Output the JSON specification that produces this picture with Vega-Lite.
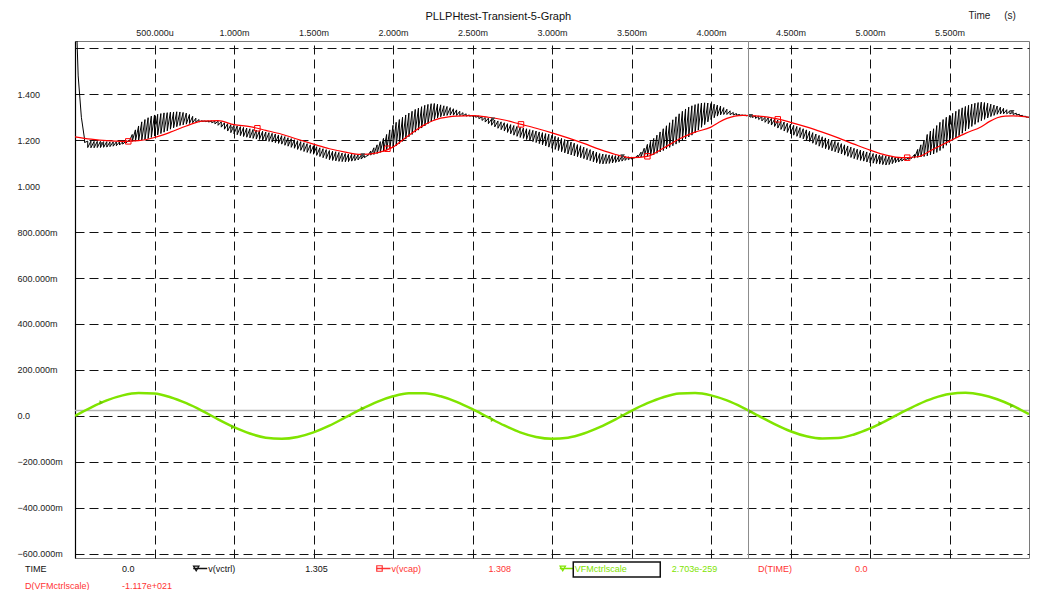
{
"$schema": "https://vega.github.io/schema/vega-lite/v6.json",
"background": "white",
"padding": {"left": 16, "top": 9, "right": 5, "bottom": 0},
"title": {"text": "PLLPHtest-Transient-5-Graph", "anchor": "start", "dx": 409, "fontSize": 11, "fontWeight": "normal", "font": "Liberation Sans", "color": "#111", "offset": -12},
"config": {
 "font": "Liberation Sans",
 "view": {"stroke": "#7a7a7a", "strokeWidth": 1},
 "axisX": {"labelFontSize": 9, "labelColor": "#222", "labelFont": "Liberation Sans", "labelBaseline": "bottom", "labelPadding": 4, "ticks": false, "domain": false,
   "grid": true, "gridColor": "#111", "gridDash": [9, 5], "gridWidth": 1,
   "titleX": 893, "titleY": -26, "titleAlign": "left", "titleBaseline": "middle", "titleFontSize": 10, "titleFontWeight": "normal", "titleColor": "#222", "titleFont": "Liberation Sans"},
 "axisY": {"labelFontSize": 9, "labelColor": "#222", "labelFont": "Liberation Sans", "labelAlign": "left", "labelBaseline": "middle", "labelPadding": 58, "ticks": false,
   "domain": true, "domainColor": "#000", "domainWidth": 1.2,
   "grid": true, "gridColor": "#111", "gridDash": [9, 5], "gridWidth": 1}
},
"spacing": -5,
"datasets": {
"vctrl": [
{"t":0,"h":1.9,"l":1.9},{"t":0.02,"h":1.48,"l":1.48},{"t":0.04,"h":1.3,"l":1.3},{"t":0.06,"h":1.205,"l":1.19},
{"t":0.08,"h":1.196,"l":1.168},{"t":0.1,"h":1.196,"l":1.167},{"t":0.12,"h":1.195,"l":1.167},{"t":0.14,"h":1.195,"l":1.168},{"t":0.16,"h":1.195,"l":1.168},{"t":0.18,"h":1.194,"l":1.169},{"t":0.2,"h":1.194,"l":1.17},{"t":0.22,"h":1.193,"l":1.172},{"t":0.24,"h":1.193,"l":1.174},{"t":0.26,"h":1.193,"l":1.176},{"t":0.28,"h":1.193,"l":1.179},{"t":0.3,"h":1.193,"l":1.183},{"t":0.32,"h":1.195,"l":1.188},
{"t":0.34,"h":1.2,"l":1.193},{"t":0.36,"h":1.225,"l":1.195},{"t":0.38,"h":1.245,"l":1.196},{"t":0.4,"h":1.262,"l":1.198},{"t":0.42,"h":1.28,"l":1.2},{"t":0.44,"h":1.29,"l":1.203},{"t":0.46,"h":1.298,"l":1.207},{"t":0.48,"h":1.305,"l":1.212},{"t":0.5,"h":1.31,"l":1.218},{"t":0.52,"h":1.313,"l":1.223},{"t":0.54,"h":1.316,"l":1.229},{"t":0.56,"h":1.319,"l":1.235},{"t":0.58,"h":1.32,"l":1.241},{"t":0.6,"h":1.322,"l":1.248},{"t":0.62,"h":1.323,"l":1.254},{"t":0.64,"h":1.324,"l":1.259},{"t":0.66,"h":1.323,"l":1.264},{"t":0.68,"h":1.321,"l":1.267},{"t":0.7,"h":1.318,"l":1.27},{"t":0.72,"h":1.312,"l":1.273},{"t":0.74,"h":1.304,"l":1.276},{"t":0.76,"h":1.296,"l":1.278},{"t":0.78,"h":1.29,"l":1.28},{"t":0.8,"h":1.285,"l":1.282},
{"t":0.82,"h":1.284,"l":1.281},{"t":0.84,"h":1.284,"l":1.279},{"t":0.86,"h":1.284,"l":1.276},{"t":0.88,"h":1.283,"l":1.271},{"t":0.9,"h":1.283,"l":1.265},{"t":0.92,"h":1.28,"l":1.257},{"t":0.94,"h":1.276,"l":1.248},{"t":0.96,"h":1.272,"l":1.24},{"t":0.98,"h":1.268,"l":1.233},{"t":1,"h":1.265,"l":1.228},{"t":1.02,"h":1.262,"l":1.224},{"t":1.04,"h":1.259,"l":1.22},{"t":1.06,"h":1.256,"l":1.216},{"t":1.08,"h":1.253,"l":1.213},{"t":1.1,"h":1.25,"l":1.21},{"t":1.12,"h":1.247,"l":1.208},{"t":1.14,"h":1.244,"l":1.205},{"t":1.16,"h":1.241,"l":1.203},{"t":1.18,"h":1.239,"l":1.2},{"t":1.2,"h":1.236,"l":1.198},{"t":1.22,"h":1.233,"l":1.195},{"t":1.24,"h":1.23,"l":1.192},{"t":1.26,"h":1.227,"l":1.189},{"t":1.28,"h":1.223,"l":1.186},{"t":1.3,"h":1.22,"l":1.183},{"t":1.32,"h":1.216,"l":1.178},{"t":1.34,"h":1.211,"l":1.174},{"t":1.36,"h":1.207,"l":1.169},{"t":1.38,"h":1.202,"l":1.165},{"t":1.4,"h":1.198,"l":1.16},{"t":1.42,"h":1.194,"l":1.156},{"t":1.44,"h":1.189,"l":1.151},{"t":1.46,"h":1.185,"l":1.147},{"t":1.48,"h":1.18,"l":1.143},{"t":1.5,"h":1.176,"l":1.139},{"t":1.52,"h":1.172,"l":1.134},{"t":1.54,"h":1.167,"l":1.129},{"t":1.56,"h":1.163,"l":1.124},{"t":1.58,"h":1.159,"l":1.12},{"t":1.6,"h":1.155,"l":1.115},{"t":1.62,"h":1.152,"l":1.112},{"t":1.64,"h":1.15,"l":1.11},{"t":1.66,"h":1.147,"l":1.108},{"t":1.68,"h":1.144,"l":1.107},{"t":1.7,"h":1.142,"l":1.106},{"t":1.72,"h":1.14,"l":1.107},{"t":1.74,"h":1.139,"l":1.109},{"t":1.76,"h":1.138,"l":1.111},{"t":1.78,"h":1.136,"l":1.114},{"t":1.8,"h":1.135,"l":1.118},{"t":1.82,"h":1.133,"l":1.124},{"t":1.84,"h":1.134,"l":1.131},
{"t":1.86,"h":1.153,"l":1.135},{"t":1.88,"h":1.167,"l":1.138},{"t":1.9,"h":1.18,"l":1.142},{"t":1.92,"h":1.194,"l":1.147},{"t":1.94,"h":1.208,"l":1.152},{"t":1.96,"h":1.225,"l":1.158},{"t":1.98,"h":1.245,"l":1.163},{"t":2,"h":1.265,"l":1.168},{"t":2.02,"h":1.278,"l":1.176},{"t":2.04,"h":1.29,"l":1.185},{"t":2.06,"h":1.3,"l":1.195},{"t":2.08,"h":1.31,"l":1.205},{"t":2.1,"h":1.318,"l":1.215},{"t":2.12,"h":1.326,"l":1.225},{"t":2.14,"h":1.334,"l":1.235},{"t":2.16,"h":1.34,"l":1.244},{"t":2.18,"h":1.346,"l":1.253},{"t":2.2,"h":1.352,"l":1.262},{"t":2.22,"h":1.356,"l":1.272},{"t":2.24,"h":1.359,"l":1.282},{"t":2.26,"h":1.36,"l":1.29},{"t":2.28,"h":1.357,"l":1.297},{"t":2.3,"h":1.354,"l":1.302},{"t":2.32,"h":1.35,"l":1.306},{"t":2.34,"h":1.347,"l":1.308},{"t":2.36,"h":1.342,"l":1.309},{"t":2.38,"h":1.337,"l":1.309},{"t":2.4,"h":1.332,"l":1.308},{"t":2.42,"h":1.326,"l":1.307},{"t":2.44,"h":1.32,"l":1.306},{"t":2.46,"h":1.315,"l":1.305},{"t":2.48,"h":1.31,"l":1.305},{"t":2.5,"h":1.307,"l":1.304},
{"t":2.52,"h":1.306,"l":1.3},{"t":2.54,"h":1.305,"l":1.294},{"t":2.56,"h":1.302,"l":1.286},{"t":2.58,"h":1.299,"l":1.279},{"t":2.6,"h":1.296,"l":1.272},{"t":2.62,"h":1.292,"l":1.265},{"t":2.64,"h":1.288,"l":1.258},{"t":2.66,"h":1.284,"l":1.252},{"t":2.68,"h":1.28,"l":1.246},{"t":2.7,"h":1.276,"l":1.24},{"t":2.72,"h":1.272,"l":1.234},{"t":2.74,"h":1.268,"l":1.228},{"t":2.76,"h":1.264,"l":1.222},{"t":2.78,"h":1.26,"l":1.217},{"t":2.8,"h":1.256,"l":1.212},{"t":2.82,"h":1.253,"l":1.208},{"t":2.84,"h":1.25,"l":1.203},{"t":2.86,"h":1.246,"l":1.199},{"t":2.88,"h":1.243,"l":1.194},{"t":2.9,"h":1.24,"l":1.19},{"t":2.92,"h":1.236,"l":1.185},{"t":2.94,"h":1.233,"l":1.18},{"t":2.96,"h":1.229,"l":1.175},{"t":2.98,"h":1.226,"l":1.17},{"t":3,"h":1.222,"l":1.165},{"t":3.02,"h":1.217,"l":1.16},{"t":3.04,"h":1.212,"l":1.155},{"t":3.06,"h":1.208,"l":1.15},{"t":3.08,"h":1.203,"l":1.145},{"t":3.1,"h":1.198,"l":1.14},{"t":3.12,"h":1.192,"l":1.136},{"t":3.14,"h":1.187,"l":1.132},{"t":3.16,"h":1.181,"l":1.128},{"t":3.18,"h":1.176,"l":1.124},{"t":3.2,"h":1.17,"l":1.12},{"t":3.22,"h":1.164,"l":1.115},{"t":3.24,"h":1.159,"l":1.111},{"t":3.26,"h":1.153,"l":1.106},{"t":3.28,"h":1.148,"l":1.102},{"t":3.3,"h":1.142,"l":1.098},{"t":3.32,"h":1.14,"l":1.097},{"t":3.34,"h":1.138,"l":1.098},{"t":3.36,"h":1.136,"l":1.099},{"t":3.38,"h":1.134,"l":1.101},{"t":3.4,"h":1.133,"l":1.103},{"t":3.42,"h":1.132,"l":1.106},{"t":3.44,"h":1.131,"l":1.109},{"t":3.46,"h":1.129,"l":1.112},{"t":3.48,"h":1.128,"l":1.115},{"t":3.5,"h":1.126,"l":1.118},{"t":3.52,"h":1.125,"l":1.122},
{"t":3.54,"h":1.135,"l":1.125},{"t":3.56,"h":1.148,"l":1.127},{"t":3.58,"h":1.165,"l":1.128},{"t":3.6,"h":1.182,"l":1.13},{"t":3.62,"h":1.195,"l":1.133},{"t":3.64,"h":1.208,"l":1.137},{"t":3.66,"h":1.222,"l":1.143},{"t":3.68,"h":1.236,"l":1.149},{"t":3.7,"h":1.25,"l":1.155},{"t":3.72,"h":1.263,"l":1.162},{"t":3.74,"h":1.276,"l":1.169},{"t":3.76,"h":1.289,"l":1.176},{"t":3.78,"h":1.302,"l":1.183},{"t":3.8,"h":1.315,"l":1.19},{"t":3.82,"h":1.326,"l":1.198},{"t":3.84,"h":1.336,"l":1.206},{"t":3.86,"h":1.344,"l":1.214},{"t":3.88,"h":1.35,"l":1.222},{"t":3.9,"h":1.355,"l":1.232},{"t":3.92,"h":1.359,"l":1.244},{"t":3.94,"h":1.362,"l":1.256},{"t":3.96,"h":1.363,"l":1.268},{"t":3.98,"h":1.362,"l":1.28},{"t":4,"h":1.36,"l":1.29},{"t":4.02,"h":1.357,"l":1.298},{"t":4.04,"h":1.353,"l":1.305},{"t":4.06,"h":1.349,"l":1.31},{"t":4.08,"h":1.342,"l":1.312},{"t":4.1,"h":1.335,"l":1.312},{"t":4.12,"h":1.328,"l":1.311},{"t":4.14,"h":1.321,"l":1.31},{"t":4.16,"h":1.316,"l":1.309},{"t":4.18,"h":1.312,"l":1.308},{"t":4.2,"h":1.31,"l":1.308},
{"t":4.22,"h":1.309,"l":1.306},{"t":4.24,"h":1.309,"l":1.303},{"t":4.26,"h":1.308,"l":1.299},{"t":4.28,"h":1.306,"l":1.295},{"t":4.3,"h":1.305,"l":1.29},{"t":4.32,"h":1.303,"l":1.284},{"t":4.34,"h":1.3,"l":1.278},{"t":4.36,"h":1.298,"l":1.272},{"t":4.38,"h":1.295,"l":1.266},{"t":4.4,"h":1.292,"l":1.26},{"t":4.42,"h":1.288,"l":1.253},{"t":4.44,"h":1.283,"l":1.247},{"t":4.46,"h":1.279,"l":1.24},{"t":4.48,"h":1.274,"l":1.234},{"t":4.5,"h":1.27,"l":1.228},{"t":4.52,"h":1.265,"l":1.222},{"t":4.54,"h":1.26,"l":1.217},{"t":4.56,"h":1.255,"l":1.211},{"t":4.58,"h":1.25,"l":1.206},{"t":4.6,"h":1.245,"l":1.2},{"t":4.62,"h":1.239,"l":1.194},{"t":4.64,"h":1.233,"l":1.187},{"t":4.66,"h":1.227,"l":1.181},{"t":4.68,"h":1.221,"l":1.174},{"t":4.7,"h":1.215,"l":1.168},{"t":4.72,"h":1.21,"l":1.163},{"t":4.74,"h":1.205,"l":1.159},{"t":4.76,"h":1.2,"l":1.154},{"t":4.78,"h":1.195,"l":1.15},{"t":4.8,"h":1.19,"l":1.145},{"t":4.82,"h":1.185,"l":1.14},{"t":4.84,"h":1.18,"l":1.135},{"t":4.86,"h":1.175,"l":1.13},{"t":4.88,"h":1.17,"l":1.125},{"t":4.9,"h":1.165,"l":1.12},{"t":4.92,"h":1.161,"l":1.116},{"t":4.94,"h":1.157,"l":1.112},{"t":4.96,"h":1.153,"l":1.109},{"t":4.98,"h":1.149,"l":1.105},{"t":5,"h":1.145,"l":1.102},{"t":5.02,"h":1.142,"l":1.1},{"t":5.04,"h":1.139,"l":1.098},{"t":5.06,"h":1.136,"l":1.096},{"t":5.08,"h":1.134,"l":1.094},{"t":5.1,"h":1.131,"l":1.092},{"t":5.12,"h":1.13,"l":1.094},{"t":5.14,"h":1.129,"l":1.098},{"t":5.16,"h":1.127,"l":1.102},{"t":5.18,"h":1.126,"l":1.105},{"t":5.2,"h":1.124,"l":1.109},{"t":5.22,"h":1.123,"l":1.113},{"t":5.24,"h":1.122,"l":1.117},{"t":5.26,"h":1.125,"l":1.12},
{"t":5.28,"h":1.138,"l":1.122},{"t":5.3,"h":1.16,"l":1.125},{"t":5.32,"h":1.18,"l":1.127},{"t":5.34,"h":1.2,"l":1.129},{"t":5.36,"h":1.225,"l":1.132},{"t":5.38,"h":1.24,"l":1.136},{"t":5.4,"h":1.25,"l":1.14},{"t":5.42,"h":1.264,"l":1.147},{"t":5.44,"h":1.278,"l":1.155},{"t":5.46,"h":1.29,"l":1.165},{"t":5.48,"h":1.3,"l":1.178},{"t":5.5,"h":1.308,"l":1.19},{"t":5.52,"h":1.317,"l":1.2},{"t":5.54,"h":1.326,"l":1.21},{"t":5.56,"h":1.334,"l":1.22},{"t":5.58,"h":1.341,"l":1.23},{"t":5.6,"h":1.347,"l":1.24},{"t":5.62,"h":1.352,"l":1.25},{"t":5.64,"h":1.357,"l":1.26},{"t":5.66,"h":1.361,"l":1.269},{"t":5.68,"h":1.364,"l":1.278},{"t":5.7,"h":1.366,"l":1.285},{"t":5.72,"h":1.364,"l":1.291},{"t":5.74,"h":1.361,"l":1.297},{"t":5.76,"h":1.357,"l":1.303},{"t":5.78,"h":1.353,"l":1.308},{"t":5.8,"h":1.349,"l":1.313},{"t":5.82,"h":1.344,"l":1.314},{"t":5.84,"h":1.339,"l":1.315},{"t":5.86,"h":1.333,"l":1.315},{"t":5.88,"h":1.328,"l":1.314},{"t":5.9,"h":1.323,"l":1.312},{"t":5.92,"h":1.318,"l":1.31},{"t":5.94,"h":1.313,"l":1.307},{"t":5.96,"h":1.308,"l":1.304},{"t":5.98,"h":1.304,"l":1.301},{"t":6,"h":1.3,"l":1.298}
],
"vcap": [
{"t":0,"v":1.215},{"t":0.1,"v":1.205},{"t":0.2,"v":1.198},{"t":0.3,"v":1.195},{"t":0.4,"v":1.198},{"t":0.5,"v":1.212},{"t":0.6,"v":1.235},{"t":0.7,"v":1.262},{"t":0.8,"v":1.283},{"t":0.9,"v":1.285},{"t":1,"v":1.268},{"t":1.1,"v":1.259},{"t":1.2,"v":1.243},{"t":1.3,"v":1.226},{"t":1.4,"v":1.204},{"t":1.5,"v":1.183},{"t":1.6,"v":1.163},{"t":1.7,"v":1.148},{"t":1.8,"v":1.138},{"t":1.9,"v":1.145},{"t":2,"v":1.17},{"t":2.1,"v":1.222},{"t":2.2,"v":1.268},{"t":2.25,"v":1.285},{"t":2.3,"v":1.296},{"t":2.35,"v":1.302},{"t":2.4,"v":1.305},{"t":2.5,"v":1.307},{"t":2.6,"v":1.3},{"t":2.7,"v":1.288},{"t":2.8,"v":1.27},{"t":2.9,"v":1.252},{"t":3,"v":1.232},{"t":3.1,"v":1.21},{"t":3.2,"v":1.186},{"t":3.3,"v":1.16},{"t":3.4,"v":1.138},{"t":3.5,"v":1.124},{"t":3.6,"v":1.13},{"t":3.7,"v":1.165},{"t":3.8,"v":1.205},{"t":3.9,"v":1.235},{"t":4,"v":1.257},{"t":4.05,"v":1.278},{"t":4.1,"v":1.295},{"t":4.15,"v":1.305},{"t":4.2,"v":1.308},{"t":4.3,"v":1.305},{"t":4.4,"v":1.295},{"t":4.5,"v":1.278},{"t":4.6,"v":1.258},{"t":4.7,"v":1.235},{"t":4.8,"v":1.21},{"t":4.9,"v":1.183},{"t":5,"v":1.157},{"t":5.1,"v":1.135},{"t":5.2,"v":1.124},{"t":5.3,"v":1.128},{"t":5.4,"v":1.162},{"t":5.5,"v":1.196},{"t":5.6,"v":1.23},{"t":5.7,"v":1.259},{"t":5.75,"v":1.281},{"t":5.8,"v":1.298},{"t":5.85,"v":1.305},{"t":5.9,"v":1.306},{"t":6,"v":1.3}
],
"vfm": [
{"t":0,"v":0},{"t":0.1,"v":0.036},{"t":0.2,"v":0.067},{"t":0.3,"v":0.089},{"t":0.4,"v":0.099},{"t":0.5,"v":0.097},{"t":0.6,"v":0.081},{"t":0.7,"v":0.055},{"t":0.8,"v":0.022},{"t":0.9,"v":-0.015},{"t":1,"v":-0.049},{"t":1.1,"v":-0.077},{"t":1.2,"v":-0.095},{"t":1.3,"v":-0.1},{"t":1.4,"v":-0.092},{"t":1.5,"v":-0.072},{"t":1.6,"v":-0.043},{"t":1.7,"v":-0.007},{"t":1.8,"v":0.029},{"t":1.9,"v":0.061},{"t":2,"v":0.085},{"t":2.1,"v":0.098},{"t":2.2,"v":0.098},{"t":2.3,"v":0.085},{"t":2.4,"v":0.061},{"t":2.5,"v":0.029},{"t":2.6,"v":-0.007},{"t":2.7,"v":-0.042},{"t":2.8,"v":-0.072},{"t":2.9,"v":-0.092},{"t":3,"v":-0.1},{"t":3.1,"v":-0.095},{"t":3.2,"v":-0.077},{"t":3.3,"v":-0.049},{"t":3.4,"v":-0.015},{"t":3.5,"v":0.022},{"t":3.6,"v":0.055},{"t":3.7,"v":0.081},{"t":3.8,"v":0.097},{"t":3.9,"v":0.099},{"t":4,"v":0.089},{"t":4.1,"v":0.067},{"t":4.2,"v":0.036},{"t":4.3,"v":0},{"t":4.4,"v":-0.036},{"t":4.5,"v":-0.067},{"t":4.6,"v":-0.089},{"t":4.7,"v":-0.099},{"t":4.8,"v":-0.097},{"t":4.9,"v":-0.081},{"t":5,"v":-0.055},{"t":5.1,"v":-0.022},{"t":5.2,"v":0.015},{"t":5.3,"v":0.049},{"t":5.4,"v":0.077},{"t":5.5,"v":0.095},{"t":5.6,"v":0.1},{"t":5.7,"v":0.092},{"t":5.8,"v":0.072},{"t":5.9,"v":0.043},{"t":6,"v":0.007}
],
"vctrlMk": [{"t":0.167,"v":1.182},{"t":0.994,"v":1.25},{"t":1.81,"v":1.134},{"t":2.628,"v":1.29},{"t":3.444,"v":1.13},{"t":4.25,"v":1.305},{"t":5.066,"v":1.12},{"t":5.894,"v":1.323}],
"vcapMk": [{"t":0.335,"v":1.195},{"t":1.147,"v":1.252},{"t":1.965,"v":1.163},{"t":2.805,"v":1.269},{"t":3.6,"v":1.13},{"t":4.42,"v":1.291},{"t":5.234,"v":1.124}],
"vfmMk": [{"t":0.167,"v":0.058},{"t":0.994,"v":-0.049},{"t":1.81,"v":0.032},{"t":2.628,"v":-0.017},{"t":3.444,"v":0.001},{"t":4.25,"v":0.018},{"t":5.066,"v":-0.033},{"t":5.894,"v":0.044}],
"cursorT": [{"t":4.236}],
"cursorV": [{"v":0.023}],
"readout": [
{"row":0,"col":0,"name":"TIME","val":"0.0","kind":"time"},
{"row":0,"col":1,"name":"v(vctrl)","val":"1.305","kind":"vctrl"},
{"row":0,"col":2,"name":"v(vcap)","val":"1.308","kind":"vcap"},
{"row":0,"col":3,"name":"VFMctrlscale","val":"2.703e-259","kind":"vfm"},
{"row":0,"col":4,"name":"D(TIME)","val":"0.0","kind":"dtime"},
{"row":1,"col":0,"name":"D(VFMctrlscale)","val":"-1.117e+021","kind":"dvfm"}
]
},
"vconcat": [
{
"width": 954, "height": 517,
"layer": [
{"data": {"name": "cursorV"}, "mark": {"type": "rule", "color": "#b4b4b4", "strokeWidth": 1.5},
 "encoding": {"y": {"field": "v", "type": "quantitative", "title": null, "scale": {"domain": [-0.619, 1.632], "nice": false, "zero": false},
   "axis": {"values": [-0.6,-0.4,-0.2,0,0.2,0.4,0.6,0.8,1,1.2,1.4,1.6],
     "labelExpr": "datum.value > 1.5 ? '' : (abs(datum.value) < 1e-9 ? '0.0' : (abs(datum.value) >= 0.999 ? format(datum.value, '.3f') : format(datum.value * 1000, '.3f') + 'm'))"}}}},
{"encoding": {
   "x": {"field": "t", "type": "quantitative", "title": "Time\u00a0\u00a0\u00a0\u00a0\u00a0(s)", "scale": {"domain": [0, 6], "nice": false, "zero": false},
     "axis": {"orient": "top", "values": [0.5,1,1.5,2,2.5,3,3.5,4,4.5,5,5.5],
       "labelExpr": "datum.value < 0.999 ? format(datum.value * 1000, '.3f') + 'u' : format(datum.value, '.3f') + 'm'"}},
   "y": {"field": "v", "type": "quantitative", "title": null, "scale": {"domain": [-0.619, 1.632], "nice": false, "zero": false},
     "axis": {"values": [-0.6,-0.4,-0.2,0,0.2,0.4,0.6,0.8,1,1.2,1.4,1.6],
       "labelExpr": "datum.value > 1.5 ? '' : (abs(datum.value) < 1e-9 ? '0.0' : (abs(datum.value) >= 0.999 ? format(datum.value, '.3f') : format(datum.value * 1000, '.3f') + 'm'))"}}},
 "layer": [
  {"data": {"name": "vfm"}, "mark": {"type": "line", "color": "#80e400", "strokeWidth": 2.5, "interpolate": "monotone", "clip": true}},
  {"data": {"name": "vctrl"}, "transform": [{"fold": ["h", "l"], "as": ["k", "v"]}],
   "mark": {"type": "line", "color": "#000", "strokeWidth": 1, "clip": true},
   "encoding": {"order": [{"field": "t", "type": "quantitative"}, {"field": "k", "type": "nominal"}]}},
  {"data": {"name": "vcap"}, "mark": {"type": "line", "color": "#ff0000", "strokeWidth": 1.2, "interpolate": "monotone", "clip": true}},
  {"data": {"name": "vctrlMk"}, "mark": {"type": "point", "shape": "triangle-down", "filled": true, "color": "#444", "size": 22, "opacity": 1}},
  {"data": {"name": "vcapMk"}, "mark": {"type": "point", "shape": "square", "filled": false, "color": "#ff0000", "size": 30, "strokeWidth": 1, "opacity": 1}},
  {"data": {"name": "vfmMk"}, "mark": {"type": "point", "shape": "triangle-right", "filled": true, "color": "#6cc800", "size": 22, "opacity": 1}}
 ]},
{"data": {"name": "cursorT"}, "mark": {"type": "rule", "color": "#8c8c8c", "strokeWidth": 1},
 "encoding": {"x": {"field": "t", "type": "quantitative", "title": "Time\u00a0\u00a0\u00a0\u00a0\u00a0(s)", "scale": {"domain": [0, 6], "nice": false, "zero": false},
   "axis": {"orient": "top", "values": [0.5,1,1.5,2,2.5,3,3.5,4,4.5,5,5.5],
     "labelExpr": "datum.value < 0.999 ? format(datum.value * 1000, '.3f') + 'u' : format(datum.value, '.3f') + 'm'"}}}}
]
},
{
"width": 751, "height": 34,
"view": {"stroke": null},
"data": {"name": "readout"},
"encoding": {
 "x": {"field": "col", "type": "ordinal", "axis": null, "scale": {"type": "point", "padding": 0.049}},
 "y": {"field": "row", "type": "ordinal", "axis": null, "scale": {"type": "point", "padding": 0.5}},
 "color": {"field": "kind", "type": "nominal", "legend": null, "scale": {"domain": ["time","vctrl","vcap","vfm","dtime","dvfm"], "range": ["#111","#111","#ff3333","#80e400","#ff3333","#ff3333"]}}
},
"layer": [
 {"mark": {"type": "text", "align": "left", "baseline": "middle", "fontSize": 9, "font": "Liberation Sans", "dx": -59}, "encoding": {"text": {"field": "name"}}},
 {"mark": {"type": "text", "align": "left", "baseline": "middle", "fontSize": 9, "font": "Liberation Sans", "dx": 38}, "encoding": {"text": {"field": "val"}}},
 {"transform": [{"filter": "datum.kind == 'vctrl' || datum.kind == 'vcap' || datum.kind == 'vfm'"}],
  "mark": {"type": "point", "shape": "M-1,0L1,0", "size": 196, "strokeWidth": 1.5, "opacity": 1, "filled": false},
  "encoding": {"xOffset": {"value": -67}}},
 {"transform": [{"filter": "datum.kind == 'vctrl' || datum.kind == 'vcap' || datum.kind == 'vfm'"}],
  "mark": {"type": "point", "size": 30, "strokeWidth": 1.2, "opacity": 1, "filled": false},
  "encoding": {"xOffset": {"value": -71}, "shape": {"field": "kind", "type": "nominal", "legend": null, "scale": {"domain": ["vctrl","vcap","vfm"], "range": ["triangle-down","square","triangle-down"]}}}},
 {"transform": [{"filter": "datum.kind == 'vfm'"}],
  "mark": {"type": "point", "shape": "M-1,-0.17L1,-0.17L1,0.17L-1,0.17Z", "size": 7569, "strokeWidth": 1.5, "opacity": 1, "filled": false},
  "encoding": {"xOffset": {"value": -17}, "yOffset": {"value": 1}, "color": {"value": "#111"}}}
]
}
]
}
